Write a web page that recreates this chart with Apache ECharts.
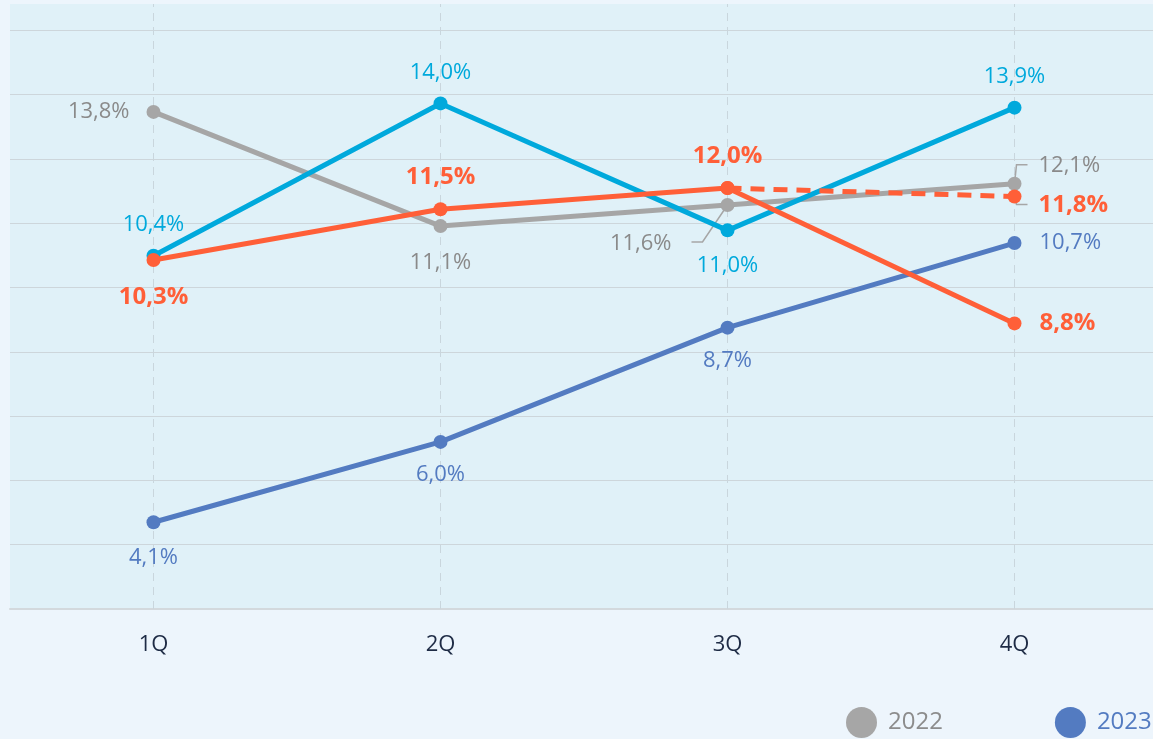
<!DOCTYPE html>
<html>
<head>
<meta charset="utf-8">
<script src="https://cdn.jsdelivr.net/npm/echarts@6/dist/echarts.min.js"></script>
<style>
  html, body { margin: 0; padding: 0; background: #edf5fc; overflow: hidden; }
  #chart { width: 1300px; height: 739px; }
</style>
</head>
<body>
<div id="chart"></div>
<script>
// quarters on the x axis
const quarters = ['1Q', '2Q', '3Q', '4Q']
// series values, %
const values2022 = [13.8, 11.1, 11.6, 12.1]
const values2023 = [4.1, 6.0, 8.7, 10.7]
const valuesCyan = [10.4, 14.0, 11.0, 13.9]
const valuesOrange = [10.3, 11.5, 12.0, 8.8]
const valuesOrangeDashed = ['-', '-', 12.0, 11.8]

const FONT = 'Open Sans'
const GREY = '#a6a6a6'
const BLUE = '#537bc1'
const CYAN = '#00a9dc'
const ORANGE = '#ff5f38'

const fmt = (p) => p.value.toFixed(1).replace('.', ',') + '%'

// attach a label setting to each point
function withLabels(vals, labels) {
  return vals.map((v, i) => (v === '-' ? v : { value: v, label: labels[i] }))
}

// leader lines for the labels pushed away from their points (px offsets from the point)
const leaderPaths = [
  [[0, 0], [-25, 37], [-36, 37]],
  [[0, 0], [2, -19], [13, -19]],
  [[0, 0], [2, 8], [13, 8]]
]

const chart = echarts.init(document.getElementById('chart'))
const option = {
  animation: false,
  backgroundColor: '#edf5fc',
  grid: {
    // the chart is wider than the window, the right part is cut off
    left: 10, right: 142, top: 4, bottom: 130,
    show: true, backgroundColor: '#e0f1f8', borderWidth: 0
  },
  legend: {
    data: [
      { name: '2022', textStyle: { color: '#8c8c8c' } },
      { name: '2023', textStyle: { color: BLUE } }
    ],
    left: 841, top: 702,
    icon: 'circle', itemWidth: 31, itemHeight: 31, itemGap: 112,
    textStyle: { fontFamily: FONT, fontSize: 24, padding: [0, 0, 0, 6] }
  },
  xAxis: {
    type: 'category',
    data: quarters,
    axisLine: { lineStyle: { color: '#d3d9dd', width: 2 } },
    axisTick: { show: false },
    axisLabel: { color: '#1e2b45', fontFamily: FONT, fontSize: 22, margin: 25 },
    splitLine: { show: false }
  },
  yAxis: [
    { type: 'value', min: 2.05, max: 16.35, show: false },
    {
      // only for the horizontal gridlines
      type: 'value', min: 0, max: 9.41, interval: 1,
      axisLabel: { show: false }, axisLine: { show: false }, axisTick: { show: false },
      splitLine: { show: true, showMinLine: false, showMaxLine: false, lineStyle: { color: '#cdd6db', width: 1 } }
    }
  ],
  series: [
    {
      name: 'guides', type: 'line', data: [], z: 1, silent: true,
      markLine: {
        silent: true, symbol: 'none', z: 1, label: { show: false },
        lineStyle: { color: '#c9d6dd', width: 1, type: [8, 6] },
        data: quarters.map(q => ({ xAxis: q }))
      }
    },
    {
      name: 'leaders', type: 'custom', z: 2, silent: true,
      data: [[2, values2022[2]], [3, values2022[3]], [3, valuesOrangeDashed[3]]],
      renderItem: (params, api) => {
        const p = api.coord([api.value(0), api.value(1)])
        return {
          type: 'polyline',
          shape: { points: leaderPaths[params.dataIndex].map(o => [p[0] + o[0], p[1] + o[1]]) },
          style: { stroke: GREY, lineWidth: 1.5, fill: null }
        }
      }
    },
    {
      name: '2022', type: 'line', z: 3,
      symbol: 'circle', symbolSize: 14,
      lineStyle: { color: GREY, width: 5 }, itemStyle: { color: GREY },
      label: { show: true, formatter: fmt, color: '#8a8a8a', fontFamily: FONT, fontSize: 22 },
      data: withLabels(values2022, [
        { position: 'left', distance: 17 },
        { position: 'bottom', distance: 19 },
        { position: 'left', distance: 49, offset: [0, 39] },
        { position: 'right', distance: 17, offset: [0, -18] }
      ])
    },
    {
      name: '2023', type: 'line', z: 4,
      symbol: 'circle', symbolSize: 14,
      lineStyle: { color: BLUE, width: 5 }, itemStyle: { color: BLUE },
      label: { show: true, formatter: fmt, color: BLUE, fontFamily: FONT, fontSize: 22 },
      data: withLabels(values2023, [
        { position: 'bottom', distance: 17 },
        { position: 'bottom', distance: 15 },
        { position: 'bottom', distance: 15 },
        { position: 'right', distance: 18 }
      ])
    },
    {
      name: 'cyan', type: 'line', z: 5,
      symbol: 'circle', symbolSize: 14,
      lineStyle: { color: CYAN, width: 5 }, itemStyle: { color: CYAN },
      label: { show: true, formatter: fmt, color: CYAN, fontFamily: FONT, fontSize: 22 },
      data: withLabels(valuesCyan, [
        { position: 'top', distance: 13 },
        { position: 'top', distance: 13 },
        { position: 'bottom', distance: 17 },
        { position: 'top', distance: 13 }
      ])
    },
    {
      name: 'orange', type: 'line', z: 6,
      symbol: 'circle', symbolSize: 14,
      lineStyle: { color: ORANGE, width: 5 }, itemStyle: { color: ORANGE },
      label: { show: true, formatter: fmt, color: ORANGE, fontFamily: FONT, fontSize: 24, fontWeight: 'bold' },
      data: withLabels(valuesOrange, [
        { position: 'bottom', distance: 18 },
        { position: 'top', distance: 13 },
        { position: 'top', distance: 13 },
        { position: 'right', distance: 18 }
      ])
    },
    {
      name: 'orange forecast', type: 'line', z: 6,
      symbol: 'circle', symbolSize: 14,
      lineStyle: { color: ORANGE, width: 5, type: [14, 9] }, itemStyle: { color: ORANGE },
      label: { show: false, formatter: fmt, color: ORANGE, fontFamily: FONT, fontSize: 24, fontWeight: 'bold' },
      data: withLabels(valuesOrangeDashed, [
        null, null,
        { show: false },
        { show: true, position: 'right', distance: 17, offset: [0, 9] }
      ])
    }
  ]
}
chart.setOption(option)
</script>
</body>
</html>
